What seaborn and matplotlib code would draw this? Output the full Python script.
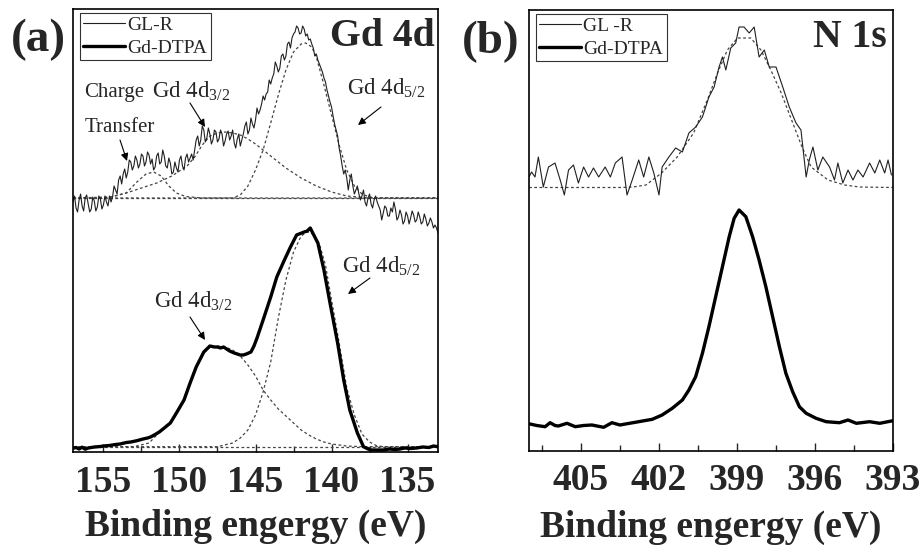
import numpy as np
import pandas as pd
import matplotlib
matplotlib.use("Agg")
import matplotlib.pyplot as plt
from matplotlib.ticker import MultipleLocator
import seaborn as sns

# ---------------- data ----------------
# Panel (a): Gd 4d  -- GL-R spectrum sampled every 0.1 eV from 157.0 down to 133.0 eV
A_E_START, A_E_STOP = 157.0, 133.0
A_I_GLR = [250, 256, 244, 240, 252, 258, 246, 241, 254, 257,
           248, 240, 243, 255, 251, 241, 245, 256, 253, 243,
           247, 256, 250, 246, 256, 250, 255, 266, 262, 258,
           272, 276, 268, 278, 283, 274, 280, 292, 290, 282,
           286, 296, 292, 284, 288, 298, 296, 286, 290, 300,
           297, 288, 293, 282, 285, 296, 299, 288, 290, 302,
           296, 286, 284, 294, 289, 278, 280, 290, 284, 280,
           292, 296, 286, 282, 294, 298, 290, 294, 298, 292,
           302, 312, 316, 306, 312, 326, 322, 310, 314, 324,
           318, 308, 312, 322, 320, 310, 313, 322, 318, 306,
           311, 318, 321, 312, 316, 322, 309, 304, 313, 318,
           306, 312, 318, 326, 330, 318, 322, 334, 328, 324,
           332, 344, 338, 342, 348, 356, 352, 358, 360, 372,
           368, 374, 378, 390, 386, 380, 384, 396, 398, 392,
           396, 408, 410, 404, 414, 418, 420, 426, 424, 418,
           419, 426, 423, 416, 418, 412, 413, 408, 404, 396,
           398, 392, 388, 384, 380, 374, 370, 362, 356, 350,
           345, 336, 328, 322, 316, 304, 296, 286, 278, 282,
           274, 262, 272, 278, 266, 258, 262, 266, 258, 252,
           256, 262, 250, 246, 254, 258, 248, 244, 252, 256,
           250, 246, 242, 232, 239, 246, 244, 236, 236, 244,
           240, 250, 243, 232, 235, 242, 237, 228, 231, 240,
           236, 228, 234, 241, 237, 230, 232, 240, 235, 228,
           230, 238, 233, 226, 229, 234, 230, 224, 227, 224,
           219]
A_E_GLR = np.round(np.linspace(A_E_START, A_E_STOP, len(A_I_GLR)), 2)

A_E_BASE_TOP = [157.0, 133.0]
A_I_BASE_TOP = [254, 254]

A_E_CT = [157.0, 154.5, 153.5, 152.8, 152.2, 151.7, 151.2, 150.7, 150.2, 149.6, 148.5, 133.0]
A_I_CT = [254, 255, 259, 270, 278, 280, 276, 266, 259, 255.5, 254, 254]

A_E_32_TOP = [157.0, 155.0, 154.4, 153.5, 152.5, 151.5, 150.5, 149.5, 149.0, 148.5, 148.0, 147.5, 147.0,
              146.5, 146.0, 145.5, 145.0, 144.5, 144.0, 143.5, 143.0, 142.5, 142.0, 141.5, 141.0, 140.5,
              140.0, 139.5, 139.0, 138.0, 137.0, 133.0]
A_I_32_TOP = [254, 254, 255.5, 259, 264, 269, 276, 286, 295, 307, 316, 319, 320,
              319, 317, 313, 308, 302, 296, 290, 284, 279, 274, 270, 266, 263,
              260, 258, 256, 254.7, 254, 254]

A_E_52_TOP = [157.0, 146.5, 146.0, 145.5, 145.0, 144.5, 144.0, 143.5, 143.0, 142.5, 142.0, 141.7, 141.3,
              141.0, 140.5, 140.0, 139.5, 139.0, 138.5, 138.0, 137.5, 137.0, 133.0]
A_I_52_TOP = [254, 254, 257, 266, 282, 302, 329, 357, 382, 400, 408, 409, 405,
              395, 367, 337, 307, 282, 266, 258, 255, 254, 254]

A_E_DTPA = [157.0, 156.8, 156.6, 156.4, 156.2, 156.0, 155.6, 155.2, 155.0, 154.6, 154.2, 153.9, 153.5,
            153.2, 152.8, 152.4, 152.1, 151.9, 151.6, 151.3, 151.0, 150.6, 150.2, 149.7, 149.3, 148.9,
            148.4, 148.0, 147.7, 147.5, 147.3, 147.1, 146.9, 146.7, 146.4, 146.2, 146.0, 145.8, 145.6,
            145.3, 145.1, 144.9, 144.5, 144.0, 143.6, 143.1, 142.7, 142.3, 141.8, 141.6, 141.4, 141.2,
            140.9, 140.5, 140.1, 139.6, 139.2, 138.8, 138.3, 137.9, 137.6, 137.4, 137.0, 136.6, 136.2,
            135.8, 135.5, 135.2, 134.8, 134.4, 134.0, 133.6, 133.3, 133.0]
A_I_DTPA = [3.7, 4.5, 3, 4.8, 2.8, 4, 5, 5.5, 6, 6.5, 7.5, 8, 9.5,
            10, 11.3, 13, 14, 15, 17.5, 20.3, 24, 29, 39, 52, 69, 85,
            100, 106, 105, 105, 104, 105, 103, 101, 99, 98, 97, 97, 98,
            100, 106, 114, 132, 155, 175, 192, 205, 217, 220, 221, 224, 218,
            209, 182, 149, 109, 72, 42, 19, 5.3, 3, 2, 2, 2, 3,
            2.5, 3, 4, 3.5, 4, 5, 4.5, 6, 5.3]

A_E_BASE_BOT = [157.0, 133.0]
A_I_BASE_BOT = [5.3, 5.3]

A_E_32_BOT = [157.0, 153.0, 152.0, 151.3, 150.6, 150.2, 149.7, 149.3, 148.9, 148.4, 148.0, 147.5, 147.0,
              146.5, 146.0, 145.5, 145.0, 144.5, 144.0, 143.5, 143.0, 142.5, 142.0, 141.5, 141.0, 140.5,
              140.0, 139.0, 138.0, 133.0]
A_I_32_BOT = [5.3, 5.3, 9, 20, 30, 40, 53, 69, 85, 99, 105, 106, 105,
              102, 96, 87, 76, 62, 52, 43, 36, 29, 22, 17, 13, 10,
              8, 6, 5.3, 5.3]

A_E_52_BOT = [157.0, 147.5, 146.5, 146.0, 145.5, 145.0, 144.5, 144.0, 143.5, 143.0, 142.5, 142.0, 141.6,
              141.2, 140.8, 140.4, 140.0, 139.5, 139.0, 138.5, 138.0, 137.5, 137.0, 136.5, 133.0]
A_I_52_BOT = [5.3, 5.3, 9, 14, 22, 37, 60, 90, 134, 172, 200, 216, 220,
              218, 208, 187, 152, 109, 64, 37, 18, 10, 6, 5.3, 5.3]

# Panel (b): N 1s
B_E_GLR = [407.0, 406.9, 406.77, 406.64, 406.45, 406.25, 406.0, 405.8, 405.64, 405.48, 405.29, 405.1,
           404.9, 404.71, 404.52, 404.32, 404.07, 403.87, 403.68, 403.42, 403.23, 403.03, 402.78, 402.59,
           402.39, 402.2, 402.0, 401.88, 401.62, 401.36, 401.1, 400.85, 400.59, 400.33, 400.08, 399.88,
           399.69, 399.56, 399.43, 399.24, 399.05, 398.92, 398.73, 398.53, 398.34, 398.15, 397.95, 397.76,
           397.5, 397.24, 396.99, 396.73, 396.54, 396.34, 396.22, 396.08, 395.89, 395.7, 395.44, 395.25,
           395.12, 394.93, 394.73, 394.54, 394.35, 394.15, 393.9, 393.7, 393.51, 393.32, 393.19, 393.06]
B_I_GLR = [274, 279, 274, 294, 264, 284, 288, 271, 256, 281, 286, 268,
           284, 274, 283, 274, 284, 274, 288, 294, 256, 271, 291, 274,
           294, 278, 256, 284, 294, 303, 299, 318, 324, 334, 354, 364,
           384, 394, 381, 403, 408, 424, 424, 418, 424, 394, 401, 384,
           384, 364, 344, 328, 321, 274, 291, 304, 281, 294, 284, 271,
           288, 268, 281, 271, 281, 274, 288, 278, 291, 278, 291, 276]

B_E_FIT = [407.0, 403.5, 403.0, 402.5, 401.9, 401.3, 400.67, 400.14, 399.75, 399.37, 398.98, 398.47,
           398.08, 397.7, 397.3, 396.9, 396.5, 396.15, 395.5, 394.86, 394.3, 393.0]
B_I_FIT = [263.5, 263.5, 264, 266, 278, 294, 318, 351, 378, 401, 413, 413,
           401, 381, 358, 331, 304, 284, 271, 266, 264, 263.5]

B_E_DTPA = [406.96, 406.7, 406.38, 406.19, 406.0, 405.87, 405.54, 405.22, 404.9, 404.58, 404.13, 403.81,
            403.5, 403.29, 402.78, 402.26, 401.88, 401.49, 401.1, 400.85, 400.59, 400.33, 400.08, 399.82,
            399.56, 399.3, 399.11, 398.92, 398.66, 398.4, 398.15, 397.89, 397.63, 397.37, 397.12, 396.86,
            396.6, 396.34, 395.96, 395.57, 395.06, 394.73, 394.41, 393.9, 393.51, 393.0]
B_I_DTPA = [27, 25.5, 24.3, 28.3, 25.5, 25, 27.7, 24.3, 25.5, 26, 23.7, 28.3,
            26, 27, 29.3, 31.7, 36, 42.7, 51, 61, 74.3, 97.7, 124.3, 154.3,
            184.3, 214.3, 232.7, 241, 234.3, 214.3, 191, 164.3, 134.3, 104.3, 77.7, 59.3,
            44.3, 37.7, 32.7, 29.3, 28.3, 31, 27.7, 29.3, 27.7, 30.3]

A_TICKS = [155, 150, 145, 140, 135]
B_TICKS = [405, 402, 399, 396, 393]
LEGEND_A = ["GL-R", "Gd-DTPA"]
LEGEND_B = ["GL -R", "Gd-DTPA"]
XLABEL = "Binding engergy (eV)"

# ---------------- style ----------------
sns.set_style("ticks")
plt.rcParams["font.family"] = ["Liberation Serif", "DejaVu Serif"]
plt.rcParams["mathtext.fontset"] = "custom"
plt.rcParams["mathtext.rm"] = "Liberation Serif"
plt.rcParams["mathtext.it"] = "Liberation Serif:italic"
plt.rcParams["mathtext.bf"] = "Liberation Serif:bold"

W, H = 923, 550
fig = plt.figure(figsize=(W / 100, H / 100), dpi=100)

A_BOX = (73, 9, 438, 452)   # left, top, right, bottom in pixels
B_BOX = (529, 10, 893, 451)


def make_ax(box):
    l, t, r, b = box
    return fig.add_axes([l / W, (H - b) / H, (r - l) / W, (b - t) / H])


def fr(box, px, py):
    l, t, r, b = box
    return ((px - l) / (r - l), (b - py) / (b - t))


def line(ax, E, I, lw, ls="-", color="black"):
    df = pd.DataFrame({"E": E, "I": I})
    sns.lineplot(data=df, x="E", y="I", ax=ax, color=color, lw=lw, ls=ls,
                 estimator=None, sort=False, legend=False)
    return ax.lines[-1]


DASH = (0, (2.2, 2.0))
FITC = "#444444"


def style_axes(ax, xlim, ticks, minor, ylim, labelpad):
    ax.set_xlim(*xlim)
    ax.set_ylim(*ylim)
    ax.set_xticks(ticks)
    ax.xaxis.set_minor_locator(MultipleLocator(minor))
    ax.set_yticks([])
    ax.set_ylabel("")
    ax.tick_params(axis="x", which="major", direction="in", length=6, width=1.0,
                   top=False, pad=9, labelsize=27)
    ax.tick_params(axis="x", which="minor", direction="in", length=4, width=1.0, top=False)
    for lab in ax.get_xticklabels():
        lab.set_fontweight("bold")
    for s in ax.spines.values():
        s.set_linewidth(1.2)
        s.set_color("black")
    ax.set_xlabel(XLABEL, fontsize=27, fontweight="bold", labelpad=labelpad)


def legend(ax, h1, h2, labels):
    leg = ax.legend([h1, h2], labels, loc="upper left", bbox_to_anchor=(0.018, 0.992),
                    borderaxespad=0, frameon=True, fancybox=False, fontsize=14,
                    handlelength=2.15, handletextpad=0.1, labelspacing=0.25,
                    borderpad=0.2)
    leg.get_frame().set_edgecolor("black")
    leg.get_frame().set_linewidth(0.8)


def arrow(ax, box, tail, head):
    ax.annotate("", xy=fr(box, *head), xytext=fr(box, *tail), xycoords="axes fraction",
                textcoords="axes fraction",
                arrowprops=dict(arrowstyle="-|>", color="black", lw=0.8,
                                mutation_scale=11, shrinkA=0, shrinkB=0))


# ---------------- panel (a) ----------------
axa = make_ax(A_BOX)
for E, I in [(A_E_BASE_TOP, A_I_BASE_TOP), (A_E_CT, A_I_CT), (A_E_32_TOP, A_I_32_TOP),
             (A_E_52_TOP, A_I_52_TOP), (A_E_BASE_BOT, A_I_BASE_BOT),
             (A_E_32_BOT, A_I_32_BOT), (A_E_52_BOT, A_I_52_BOT)]:
    line(axa, E, I, 0.9, ls=DASH, color=FITC)
ha1 = line(axa, A_E_GLR, A_I_GLR, 0.8, color="#202020")
ha2 = line(axa, A_E_DTPA, A_I_DTPA, 2.4, color="black")
style_axes(axa, (157, 133), A_TICKS, 2.5, (0, 443), 7)
legend(axa, ha1, ha2, LEGEND_A)

axa.text(*fr(A_BOX, 435, 37), "Gd 4d", transform=axa.transAxes, ha="right", va="center",
         fontsize=28.5, fontweight="bold")
axa.text(*fr(A_BOX, 84, 92), "Charge", transform=axa.transAxes, ha="left", va="center", fontsize=15)
axa.text(*fr(A_BOX, 85, 128), "Transfer", transform=axa.transAxes, ha="left", va="center", fontsize=15)
axa.text(*fr(A_BOX, 152, 91), r"Gd 4d$_{3/2}$", transform=axa.transAxes, ha="left", va="center", fontsize=16.5)
axa.text(*fr(A_BOX, 347, 88), r"Gd 4d$_{5/2}$", transform=axa.transAxes, ha="left", va="center", fontsize=16.5)
axa.text(*fr(A_BOX, 154, 301), r"Gd 4d$_{3/2}$", transform=axa.transAxes, ha="left", va="center", fontsize=16.5)
axa.text(*fr(A_BOX, 342, 266), r"Gd 4d$_{5/2}$", transform=axa.transAxes, ha="left", va="center", fontsize=16.5)
arrow(axa, A_BOX, (120, 140), (127, 161))
arrow(axa, A_BOX, (190, 103), (205, 127))
arrow(axa, A_BOX, (381, 107), (358, 125))
arrow(axa, A_BOX, (190, 317), (205, 340))
arrow(axa, A_BOX, (370, 278), (348, 294))

# ---------------- panel (b) ----------------
axb = make_ax(B_BOX)
line(axb, B_E_FIT, B_I_FIT, 0.9, ls=DASH, color=FITC)
hb1 = line(axb, B_E_GLR, B_I_GLR, 0.8, color="#202020")
hb2 = line(axb, B_E_DTPA, B_I_DTPA, 2.4, color="black")
style_axes(axb, (407, 393), B_TICKS, 1.5, (0, 441), 8)
legend(axb, hb1, hb2, LEGEND_B)
axb.text(*fr(B_BOX, 887, 37), "N 1s", transform=axb.transAxes, ha="right", va="center",
         fontsize=28.5, fontweight="bold")

# panel letters
fig.text(38 / W, 1 - 40 / H, "(a)", ha="center", va="center", fontsize=34, fontweight="bold")
fig.text(491 / W, 1 - 42 / H, "(b)", ha="center", va="center", fontsize=34, fontweight="bold")

fig.savefig("out.png", dpi=100)
